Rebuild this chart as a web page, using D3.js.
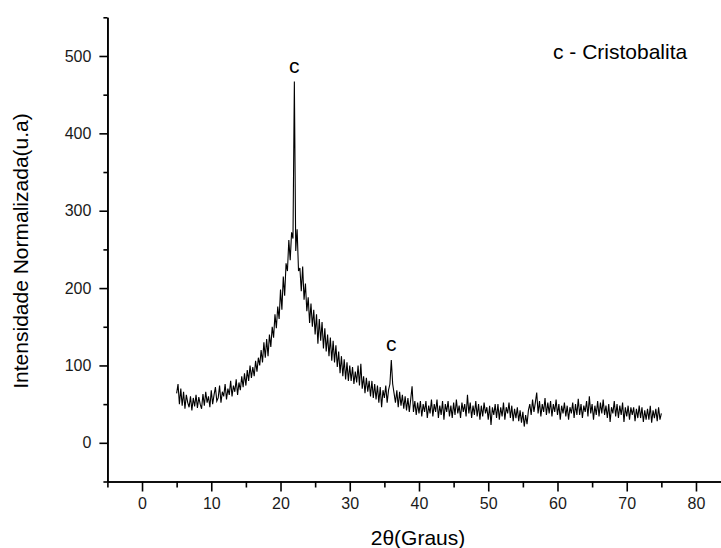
<!DOCTYPE html>
<html>
<head>
<meta charset="utf-8">
<script src="https://cdn.jsdelivr.net/npm/d3@7"></script>
<style>
  body { margin: 0; background: #fff; }
  svg { display: block; font-family: "Liberation Sans", Arial, sans-serif; }
  .axis path, .axis line { stroke: #000; stroke-width: 1.6; }
  .axis text { fill: #1a1a1a; font-size: 16px; }
  .trace { fill: none; stroke: #000; stroke-width: 1.1; }
</style>
</head>
<body>
<div id="graph"></div>
<script>
// XRD pattern, 2theta from 5 to 75 degrees, one reading every 0.2 degree
// (rows below hold the readings for n, n+0.2, n+0.4, n+0.6, n+0.8)
var startAngle = 5;
var stepAngle = 0.2;
var intensity = [
  64, 76, 50, 70, 48,      // 5
  66, 44, 62, 52, 46,      // 6
  60, 42, 58, 47, 62,      // 7
  45, 59, 50, 44, 63,      // 8
  48, 66, 52, 60, 46,      // 9
  68, 50, 62, 72, 54,      // 10
  58, 74, 52, 66, 60,      // 11
  76, 56, 70, 62, 80,      // 12
  60, 74, 66, 82, 62,      // 13
  78, 68, 86, 72, 90,      // 14
  74, 94, 80, 100, 84,     // 15
  98, 86, 106, 92, 110,    // 16
  100, 120, 104, 130, 110, // 17
  134, 112, 140, 124, 150, // 18
  136, 166, 148, 176, 160, // 19
  198, 172, 215, 190, 232, // 20
  222, 262, 236, 272, 264, // 21
  467, 248, 276, 222, 226, // 22
  196, 228, 185, 206, 170, // 23
  188, 155, 180, 150, 172, // 24
  140, 166, 128, 160, 132, // 25
  156, 122, 148, 118, 140, // 26
  112, 136, 106, 132, 104, // 27
  126, 98, 118, 90, 112,   // 28
  86, 108, 82, 104, 80,    // 29
  100, 80, 98, 76, 92,     // 30
  78, 100, 74, 102, 70,    // 31
  86, 64, 84, 66, 80,      // 32
  60, 80, 58, 76, 56,      // 33
  74, 52, 72, 46, 68,      // 34
  58, 74, 52, 68, 76,      // 35
  107, 76, 64, 52, 68,     // 36
  46, 66, 48, 62, 44,      // 37
  60, 42, 58, 40, 56,      // 38
  73, 40, 54, 36, 52,      // 39
  38, 54, 34, 50, 40,      // 40
  54, 32, 48, 38, 56,      // 41
  34, 50, 40, 56, 32,      // 42
  48, 36, 54, 30, 50,      // 43
  40, 54, 34, 48, 32,      // 44
  52, 36, 56, 38, 48,      // 45
  32, 52, 40, 50, 34,      // 46
  62, 38, 52, 32, 48,      // 47
  36, 54, 34, 50, 30,      // 48
  48, 34, 52, 38, 46,      // 49
  30, 48, 23, 46, 36,      // 50
  50, 32, 50, 30, 46,      // 51
  34, 52, 30, 46, 38,      // 52
  52, 32, 48, 28, 44,      // 53
  32, 46, 28, 42, 26,      // 54
  40, 21, 36, 24, 42,      // 55
  50, 36, 56, 40, 52,      // 56
  65, 38, 54, 34, 50,      // 57
  40, 58, 36, 52, 38,      // 58
  54, 34, 50, 40, 56,      // 59
  36, 50, 30, 48, 38,      // 60
  52, 34, 48, 30, 46,      // 61
  38, 52, 32, 50, 36,      // 62
  57, 36, 50, 32, 48,      // 63
  40, 54, 34, 60, 38,      // 64
  50, 30, 48, 36, 54,      // 65
  34, 52, 38, 56, 36,      // 66
  48, 32, 50, 27, 46,      // 67
  38, 54, 34, 50, 32,      // 68
  48, 36, 52, 27, 46,      // 69
  34, 48, 30, 46, 36,      // 70
  46, 28, 44, 32, 48,      // 71
  32, 46, 27, 42, 30,      // 72
  44, 30, 48, 26, 42,      // 73
  32, 44, 28, 46, 30,      // 74
  38                       // 75
];

// phase labels over the peaks
var peakAngles = [22, 36];
var peakHeights = [467, 107];
var peakLabels = ['c', 'c'];
var legendText = 'c - Cristobalita';

var xMajorTicks = [0, 10, 20, 30, 40, 50, 60, 70, 80];
var xMinorTicks = [-5, 5, 15, 25, 35, 45, 55, 65, 75, 85];
var yMajorTicks = [0, 100, 200, 300, 400, 500];
var yMinorTicks = [-50, 50, 150, 250, 350, 450, 550];

var width = 721, height = 548;

var x = d3.scaleLinear().domain([-5, 85]).range([107.4, 730.6]);
var y = d3.scaleLinear().domain([-50, 550]).range([481.5, 17.3]);

var svg = d3.select('#graph').append('svg')
  .attr('width', width)
  .attr('height', height);

// x axis: minor ticks first, then major ticks with labels
svg.append('g')
  .attr('class', 'axis')
  .attr('transform', 'translate(0,' + y(-50) + ')')
  .call(d3.axisBottom(x).tickValues(xMinorTicks).tickSize(6).tickSizeOuter(0).tickFormat(''));

svg.append('g')
  .attr('class', 'axis')
  .attr('transform', 'translate(0,' + y(-50) + ')')
  .call(d3.axisBottom(x).tickValues(xMajorTicks).tickSize(10).tickSizeOuter(0).tickPadding(6).tickFormat(d3.format('d')));

// y axis
svg.append('g')
  .attr('class', 'axis')
  .attr('transform', 'translate(' + x(-5) + ',0)')
  .call(d3.axisLeft(y).tickValues(yMinorTicks).tickSize(4).tickSizeOuter(0).tickFormat(''));

svg.append('g')
  .attr('class', 'axis')
  .attr('transform', 'translate(' + x(-5) + ',0)')
  .call(d3.axisLeft(y).tickValues(yMajorTicks).tickSize(8).tickSizeOuter(0).tickPadding(8).tickFormat(d3.format('d')));

// the diffractogram
var valueline = d3.line()
  .x(function(d, i) { return x(startAngle + i * stepAngle); })
  .y(function(d) { return y(d); });

svg.append('path')
  .datum(intensity)
  .attr('class', 'trace')
  .attr('d', valueline);

// peak labels
svg.selectAll('text.peak')
  .data(peakAngles)
  .enter().append('text')
  .attr('class', 'peak')
  .attr('x', function(d) { return x(d); })
  .attr('y', function(d, i) { return y(peakHeights[i]) - 9; })
  .attr('text-anchor', 'middle')
  .style('font-size', '21px')
  .text(function(d, i) { return peakLabels[i]; });

svg.append('text')
  .attr('x', 553)
  .attr('y', 59)
  .style('font-size', '21px')
  .text(legendText);

// axis titles
svg.append('text')
  .attr('x', 418)
  .attr('y', 545)
  .attr('text-anchor', 'middle')
  .style('font-size', '21px')
  .text('2θ(Graus)');

svg.append('text')
  .attr('transform', 'translate(28,251) rotate(-90)')
  .attr('text-anchor', 'middle')
  .style('font-size', '21px')
  .text('Intensidade Normalizada(u.a)');
</script>
</body>
</html>
